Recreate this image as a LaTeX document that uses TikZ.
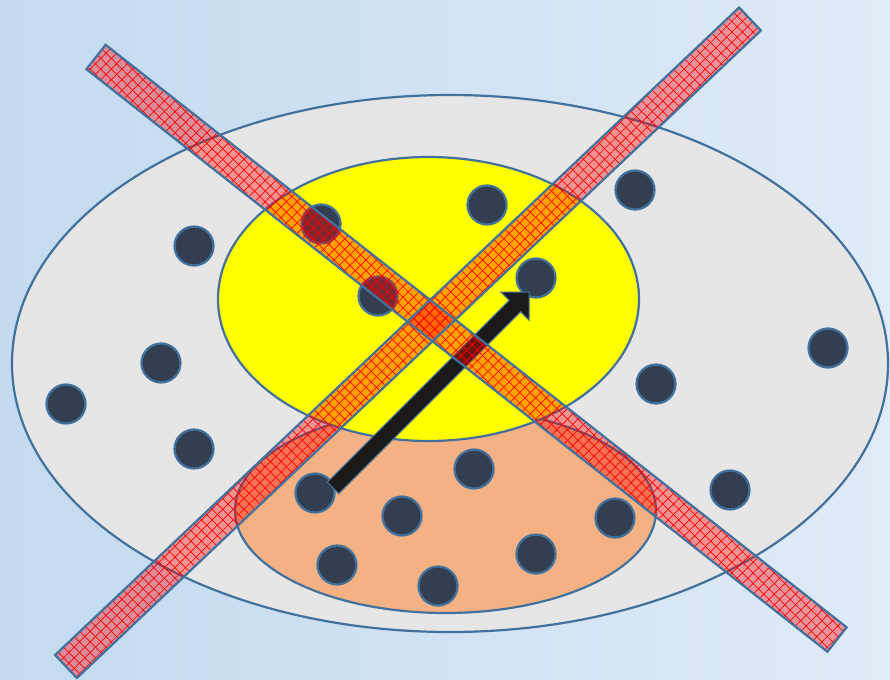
\documentclass[tikz,border=0pt]{standalone}
\usetikzlibrary{patterns.meta}
\definecolor{bgl}{HTML}{C3DAF0}
\definecolor{bgr}{HTML}{DFEBF7}
\definecolor{edge}{HTML}{41719C}
\definecolor{grayfill}{HTML}{E6E6E6}
\definecolor{orangefill}{HTML}{F4B183}
\definecolor{yellowfill}{HTML}{FFFF00}
\definecolor{dotfill}{HTML}{333F50}
\definecolor{arrowfill}{HTML}{1A1A1A}
\definecolor{barred}{HTML}{FF0000}
\tikzset{
  blob/.style={draw=edge, line width=2.2pt},
  dot/.style={circle, draw=edge, line width=2.2pt, fill=dotfill, minimum size=39pt, inner sep=0pt},
  barfill/.style={fill=barred, fill opacity=0.36},
  barhatchA/.style={pattern={Lines[angle=45,distance=7.5pt,line width=0.7pt]}, pattern color=barred, fill opacity=0.4},
  barhatchB/.style={pattern={Lines[angle=-45,distance=7.5pt,line width=0.7pt]}, pattern color=barred, fill opacity=0.4},
  baredge/.style={draw=edge, line width=2.2pt, line join=miter},
}
\begin{document}
\begin{tikzpicture}[x=1pt,y=-1pt]
\useasboundingbox (0,0) rectangle (890,679);
\shade[left color=bgl, right color=bgr] (0,0) rectangle (890,679);
% ellipses
\draw[blob, fill=grayfill] (450,363.5) ellipse [x radius=438pt, y radius=268.5pt];
\draw[blob, fill=orangefill] (445.5,510.5) ellipse [x radius=210.5pt, y radius=102.5pt];
\draw[blob, fill=yellowfill] (428.5,299) ellipse [x radius=210.5pt, y radius=142pt];
% dots
\node[dot] (d1) at (194,246) {};
\node[dot] (d2) at (161,363) {};
\node[dot] (d3) at (66,404) {};
\node[dot] (d4) at (194,449) {};
\node[dot] (d5) at (321,224) {};
\node[dot] (d6) at (378,296) {};
\node[dot] (d7) at (487,205) {};
\node[dot] (d8) at (536,278) {};
\node[dot] (d9) at (635,190) {};
\node[dot] (d10) at (656,384) {};
\node[dot] (d11) at (828,348) {};
\node[dot] (d12) at (730,490) {};
\node[dot] (d13) at (615,518) {};
\node[dot] (d14) at (536,554) {};
\node[dot] (d15) at (474,469) {};
\node[dot] (d16) at (402,516) {};
\node[dot] (d17) at (315,493) {};
\node[dot] (d18) at (337,565) {};
\node[dot] (d19) at (438,586) {};
% block arrow
\draw[draw=edge, line width=1pt, fill=arrowfill, line join=miter]
  (338.8,493.6) -- (520.6,311.8) -- (529.0,320.2) -- (529,292) -- (500.8,292.0)
  -- (509.2,300.4) -- (327.4,482.2) -- cycle;
% bars
\foreach \p in {
  {(86.4,69.2) -- (105.6,44.8) -- (846.6,627.3) -- (827.4,651.7) -- cycle},
  {(55.1,655.0) -- (739.1,7.5) -- (760.9,30.5) -- (76.9,678.0) -- cycle}} {
  \fill[barfill] \p;
  \fill[barhatchA] \p;
  \fill[barhatchB] \p;
}
\draw[baredge] (86.4,69.2) -- (105.6,44.8) -- (846.6,627.3) -- (827.4,651.7) -- cycle;
\draw[baredge] (55.1,655.0) -- (739.1,7.5) -- (760.9,30.5) -- (76.9,678.0) -- cycle;
\end{tikzpicture}
\end{document}
